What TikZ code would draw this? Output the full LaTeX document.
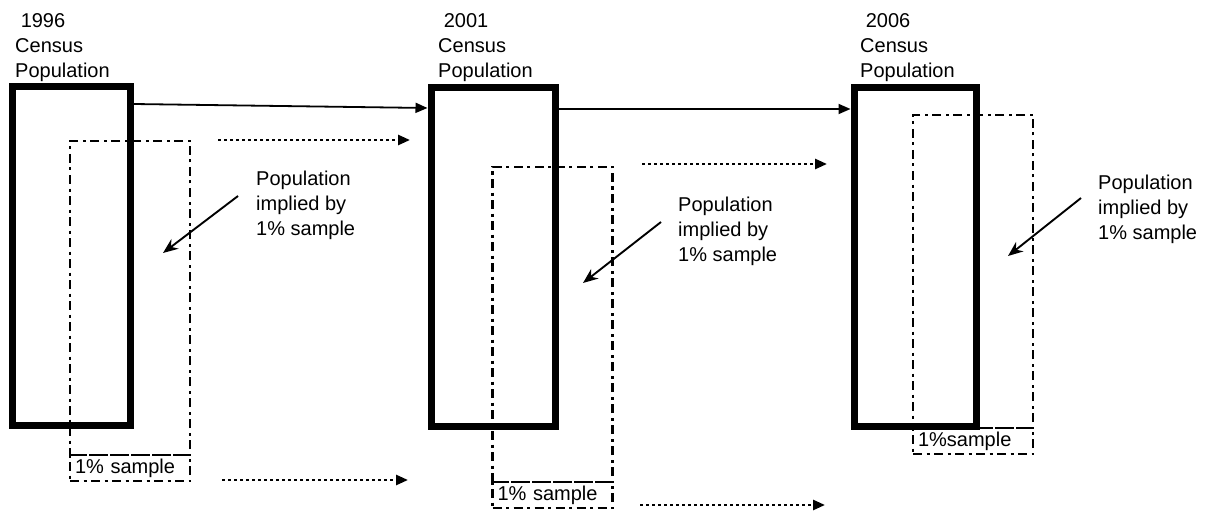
\documentclass[tikz,border=0pt]{standalone}
\usepackage{fontspec}
\setmainfont{Liberation Sans}
\usetikzlibrary{arrows.meta, positioning}

\begin{document}
\begin{tikzpicture}[x=1pt, y=-1pt, font=\fontsize{20}{25}\selectfont,
		censusbox/.style={draw, line width=7pt, minimum height=339pt, inner sep=0pt},
		samplebox/.style={draw, line width=2.6pt, dash pattern=on 9pt off 4.5pt on 3pt off 4.5pt, minimum width=120pt, inner sep=0pt, outer sep=0pt},
		sampletag/.style={samplebox, minimum height=26pt, text width=110pt, align=left, inner xsep=5pt},
		note/.style={anchor=north west, align=left, inner sep=0pt},
		move/.style={-{Triangle[length=12pt, width=10pt]}, line width=1.8pt},
		dotmove/.style={-{Triangle[length=12pt, width=10pt]}, line width=2.6pt, dash pattern=on 2.6pt off 3.4pt},
		pointer/.style={-{Stealth[length=15pt, width=12pt]}, line width=1.9pt}]
		\useasboundingbox (0,0) rectangle (1214,513);

		% 1% samples
		\node[samplebox, minimum height=314pt] (s1) at (130,298) {};
		\node[sampletag, below=0pt of s1] (n1) {1\% sample};
		\node[samplebox, minimum height=315pt] (s2) at (552.5,324.5) {};
		\node[sampletag, below=0pt of s2] (n2) {1\% sample};
		\node[samplebox, minimum height=313pt] (s3) at (973,271.5) {};
		\node[sampletag, below=0pt of s3] (n3) {1\%sample};

		% census populations
		\node[censusbox, minimum width=118pt] (c1) at (71,256) {};
		\node[censusbox, minimum width=124pt] (c2) at (493,257) {};
		\node[censusbox, minimum width=122pt] (c3) at (915,257) {};

		\node[note] (y1) at (15,13) {\ 1996\\Census\\Population};
		\node[note] (y2) at (438,13) {\ 2001\\Census\\Population};
		\node[note] (y3) at (860,13) {\ 2006\\Census\\Population};

		\node[note] (p1) at (256,171) {Population\\implied by\\1\% sample};
		\node[note] (p2) at (678,197) {Population\\implied by\\1\% sample};
		\node[note] (p3) at (1098,175) {Population\\implied by\\1\% sample};

		\coordinate (t1) at (163,253);
		\coordinate (t2) at (583,283);
		\coordinate (t3) at (1008,256);

		\coordinate (a1) at (218,140);
		\coordinate (b1) at (410,140);
		\coordinate (a2) at (222,480);
		\coordinate (b2) at (408,480);
		\coordinate (a3) at (642,164);
		\coordinate (b3) at (827,164);
		\coordinate (a4) at (640,505);
		\coordinate (b4) at (825,505);

		\draw[move] ([yshift=-21pt]c1.north east) -- ([yshift=-24pt]c2.north west);
		\draw[move] ([yshift=-25pt]c2.north east) -- ([yshift=-25pt]c3.north west);

		\draw[dotmove] (a1) -- (b1);
		\draw[dotmove] (a2) -- (b2);
		\draw[dotmove] (a3) -- (b3);
		\draw[dotmove] (a4) -- (b4);

		\draw[pointer] ([xshift=-18pt, yshift=-25pt]p1.north west) -- (t1);
		\draw[pointer] ([xshift=-17pt, yshift=-25pt]p2.north west) -- (t2);
		\draw[pointer] ([xshift=-17pt, yshift=-23pt]p3.north west) -- (t3);
	\end{tikzpicture}
\end{document}
